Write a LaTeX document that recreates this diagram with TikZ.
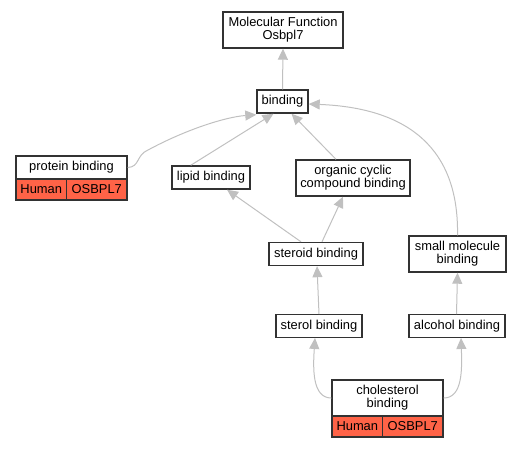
\documentclass[tikz,border=0pt]{standalone}
\usepackage{fontspec}
\setmainfont{Liberation Sans}
\usetikzlibrary{arrows.meta}
\definecolor{edgegray}{RGB}{192,192,192}
\definecolor{boxline}{RGB}{50,50,50}
\definecolor{orgred}{RGB}{255,99,71}
\tikzset{
  box/.style={draw=boxline, line width=1.4pt, fill=white, inner sep=0pt, align=center,
    font=\fontsize{12.9}{12.8}\selectfont},
  cell/.style={box, fill=orgred},
  edge/.style={draw=edgegray, line width=1pt, -{Triangle[length=11pt,width=10pt]}}
}
\begin{document}
\begin{tikzpicture}[x=1pt,y=-1pt]
\useasboundingbox (0,0) rectangle (521,448);
\node[box, minimum width=120pt, minimum height=36pt] (mf) at (283,30) {Molecular Function\\Osbpl7};
\node[box, minimum width=51pt, minimum height=23pt] (bind) at (282.5,101.5) {binding};
\node[box, minimum width=111pt, minimum height=23pt] (pb) at (71.5,167.5) {protein binding};
\node[cell, minimum width=50.5pt, minimum height=21pt] (pbh) at (41.25,189.5) {Human};
\node[cell, minimum width=60.5pt, minimum height=21pt] (pbo) at (96.75,189.5) {OSBPL7};
\node[box, minimum width=78pt, minimum height=23pt] (lipid) at (211,177.5) {lipid binding};
\node[box, minimum width=114pt, minimum height=36pt] (org) at (353,178) {organic cyclic\\compound binding};
\node[box, minimum width=94pt, minimum height=23pt] (steroid) at (316,254) {steroid binding};
\node[box, minimum width=97pt, minimum height=36pt] (small) at (457.5,254) {small molecule\\binding};
\node[box, minimum width=86pt, minimum height=22.5pt] (sterol) at (319,326) {sterol binding};
\node[box, minimum width=96pt, minimum height=22.5pt] (alc) at (457,326) {alcohol binding};
\node[box, minimum width=111pt, minimum height=36pt] (chol) at (387.5,398) {cholesterol\\binding};
\node[cell, minimum width=50.7pt, minimum height=21pt] (chh) at (357.3,426.5) {Human};
\node[cell, minimum width=60.3pt, minimum height=21pt] (cho) at (412.8,426.5) {OSBPL7};
% edges
\draw[edge] (bind.north) -- (mf.south);
\draw[edge] (pb.east) .. controls (140,167) and (136,155) .. (148,150) .. controls (185,130) and (225,117) .. ([yshift=-1pt]bind.south west);
\draw[edge] ([xshift=-60pt]lipid.north east) -- ([xshift=-9pt]bind.south);
\draw[edge] ([xshift=-17pt]org.north) -- ([xshift=9pt]bind.south);
\draw[edge] (small.north) .. controls (459,150) and (410,108) .. ([yshift=-2.5pt]bind.east);
\draw[edge] ([xshift=-15pt]steroid.north) -- ([xshift=16pt]lipid.south);
\draw[edge] ([xshift=6pt]steroid.north) -- ([xshift=-10pt]org.south);
\draw[edge] (sterol.north) -- ([xshift=1pt]steroid.south);
\draw[edge] ([xshift=-0.5pt]alc.north) -- (small.south);
\draw[edge] (chol.west) .. controls (312,398) and (313,368) .. ([xshift=-4pt]sterol.south);
\draw[edge] (chol.east) .. controls (463,398) and (462,368) .. ([xshift=4pt]alc.south);
\end{tikzpicture}
\end{document}
